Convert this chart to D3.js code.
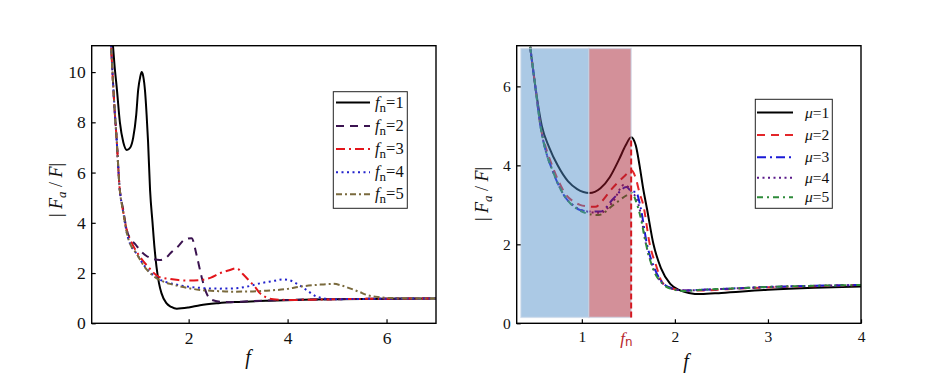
<!DOCTYPE html>
<html><head><meta charset="utf-8">
<script src="https://cdn.jsdelivr.net/npm/d3@7"></script>
</head><body style="margin:0;background:#fff"><svg id="c" width="936" height="391" style="display:block"></svg>
<script>
// ---------- DATA ----------
// Left panel: |Fa/F| vs f for fn = 1..5
const leftNames = ["1","2","3","4","5"];
const fn1F = [0.46,0.5,0.55,0.61,0.68,0.75,0.82,0.88,0.94,0.98,1.02,1.05,1.08,1.12,1.15,1.18,1.22,1.27,1.31,1.35,1.4,1.45,1.55,1.65,1.76,2.0,2.23,2.6,3.0,3.6,4.5,5.5,7.0];
const fn1V = [11.3,10.3,9.3,8.0,7.2,6.9,7.0,7.4,8.3,9.3,9.8,10.0,9.85,9.2,8.3,7.2,5.3,4.0,3.0,2.25,1.6,1.2,0.8,0.65,0.58,0.63,0.72,0.8,0.85,0.9,0.95,0.97,0.99];
const fn2F = [0.42,0.46,0.5,0.545,0.6,0.68,0.75,0.83,0.92,1.02,1.12,1.25,1.42,1.55,1.66,1.78,1.91,2.06,2.16,2.26,2.36,2.45,2.63,2.85,3.04,3.5,4.0,5.0,6.0,7.0];
const fn2V = [11.5,10.0,8.6,7.3,5.5,4.5,3.7,3.35,3.15,2.9,2.72,2.58,2.52,2.62,2.85,3.05,3.32,3.39,2.72,1.86,1.2,0.95,0.86,0.84,0.86,0.9,0.93,0.96,0.98,0.99];
const fn3F = [0.42,0.46,0.5,0.545,0.6,0.68,0.75,0.85,0.98,1.18,1.39,1.6,1.79,2.0,2.23,2.45,2.63,2.8,2.97,3.1,3.24,3.34,3.44,3.55,3.71,4.0,4.5,5.0,6.0,7.0];
const fn3V = [11.5,10.0,8.6,7.3,5.5,4.4,3.7,3.2,2.75,2.25,1.86,1.77,1.72,1.70,1.72,1.82,1.99,2.1,2.19,1.95,1.66,1.45,1.2,1.05,0.96,0.93,0.94,0.96,0.98,0.99];
const fn4F = [0.42,0.46,0.5,0.545,0.6,0.68,0.75,0.83,0.92,1.12,1.32,1.5,1.66,1.99,2.23,2.6,2.9,3.2,3.44,3.7,3.91,4.11,4.25,4.38,4.59,4.92,5.5,6.0,7.0];
const fn4V = [11.5,10.0,8.6,7.3,5.5,4.4,3.6,3.1,2.85,2.25,1.86,1.67,1.58,1.46,1.41,1.38,1.39,1.47,1.59,1.68,1.75,1.66,1.5,1.33,1.06,0.96,0.97,0.98,0.99];
const fn5F = [0.42,0.46,0.5,0.545,0.6,0.68,0.75,0.83,0.92,1.12,1.32,1.5,1.66,1.99,2.23,2.6,2.9,3.3,3.58,4.0,4.25,4.6,4.92,5.1,5.26,5.45,5.6,5.86,6.2,7.0];
const fn5V = [11.5,10.0,8.6,7.3,5.5,4.4,3.6,3.1,2.85,2.22,1.84,1.65,1.55,1.4,1.33,1.28,1.26,1.27,1.3,1.37,1.46,1.53,1.57,1.5,1.39,1.25,1.13,1.04,1.0,0.99];
const leftColors = ["#000000","#3b1350","#e3151b","#2222cc","#7a6a3d"];
const leftDashes = [null,"8,6","9,4,2,4","2,3.5","6,3,2,3"];

// Right panel: |Fa/F| vs f for mu = 1..5
const rightNames = ["1","2","3","4","5"];
const mu1F = [0.445,0.5,0.57,0.65,0.74,0.85,0.95,1.08,1.2,1.3,1.4,1.47,1.53,1.58,1.62,1.66,1.7,1.77,1.85,1.95,2.05,2.15,2.28,2.5,3.0,3.5,4.0];
const mu1V = [7.0,6.0,5.0,4.45,4.0,3.6,3.4,3.3,3.42,3.7,4.15,4.5,4.71,4.5,4.0,3.4,2.9,2.0,1.4,1.0,0.84,0.77,0.74,0.77,0.85,0.9,0.93];
const mu2F = [0.445,0.5,0.555,0.62,0.68,0.75,0.82,0.9,0.98,1.06,1.145,1.22,1.31,1.38,1.45,1.5,1.53,1.58,1.62,1.66,1.73,1.8,1.86,1.95,2.1,2.3,2.6,3.0,3.5,4.0];
const mu2V = [7.0,6.0,5.0,4.4,4.0,3.6,3.29,3.1,3.0,2.96,2.95,3.1,3.37,3.55,3.71,3.82,3.88,3.67,3.3,3.0,2.0,1.45,1.05,0.9,0.83,0.83,0.87,0.91,0.94,0.97];
const mu3F = [0.445,0.5,0.555,0.62,0.68,0.75,0.82,0.9,0.98,1.09,1.2,1.34,1.48,1.54,1.58,1.63,1.7,1.78,1.86,1.95,2.1,2.3,2.6,3.0,3.5,4.0];
const mu3V = [7.0,6.0,5.0,4.3,3.9,3.5,3.2,3.0,2.87,2.83,2.83,3.16,3.45,3.33,3.33,2.95,2.0,1.4,1.05,0.9,0.83,0.85,0.88,0.92,0.95,0.97];
const mu4F = [0.445,0.5,0.555,0.62,0.68,0.75,0.82,0.9,0.98,1.09,1.2,1.34,1.45,1.5,1.54,1.58,1.63,1.69,1.77,1.86,1.95,2.1,2.3,2.6,3.0,3.5,4.0];
const mu4V = [7.0,6.0,5.0,4.3,3.9,3.5,3.2,3.0,2.88,2.82,2.8,3.1,3.5,3.45,3.3,3.2,2.8,2.0,1.38,1.03,0.89,0.83,0.85,0.88,0.92,0.95,0.97];
const mu5F = [0.445,0.5,0.555,0.62,0.68,0.75,0.875,0.96,1.055,1.18,1.34,1.49,1.54,1.58,1.63,1.69,1.77,1.86,1.95,2.1,2.3,2.6,3.0,3.5,4.0];
const mu5V = [7.0,6.0,5.0,4.3,3.9,3.5,3.04,2.88,2.78,2.74,3.0,3.25,3.3,3.1,2.7,2.0,1.35,1.02,0.88,0.82,0.85,0.88,0.92,0.95,0.97];
const rightColors = ["#000000","#e3262a","#1a1ad6","#5a1a8a","#2e8b3a"];
const rightDashes = [null,"8,6","9,4,2,4","2,3.5","6,4,2,4"];

// shaded bands and fn marker (right panel)
const bandBlue = [0.345, 1.075];
const bandRed = [1.075, 1.53];
const bandY = [0.15, 6.96];
const fnValue = 1.53;
const fnTop = 4.66;

const leftXTicks = [2,4,6];
const leftYTicks = [0,2,4,6,8,10];
const rightXTicks = [1,2,3,4];
const rightYTicks = [0,2,4,6];

// ---------- DRAW ----------
const svg = d3.select("#c");
const FONT = "'Liberation Serif'";
const SANS = "'DejaVu Sans'";

function panel(opts){
  const x = d3.scaleLinear().domain(opts.xd).range(opts.xr);
  const y = d3.scaleLinear().domain(opts.yd).range(opts.yr);
  const g = svg.append("g");
  const cid = "clip"+opts.id;
  svg.append("clipPath").attr("id",cid).append("rect")
    .attr("x",opts.xr[0]).attr("y",opts.yr[1]).attr("width",opts.xr[1]-opts.xr[0]).attr("height",opts.yr[0]-opts.yr[1]);
  return {x,y,g,cid};
}

function axes(p, xt, yt, fs){
  const ax = p.g.append("g").attr("transform",`translate(0,${p.y.range()[0]})`)
    .call(d3.axisBottom(p.x).tickValues(xt).tickSize(-4).tickPadding(8).tickFormat(d3.format("d")));
  const ay = p.g.append("g").attr("transform",`translate(${p.x.range()[0]},0)`)
    .call(d3.axisLeft(p.y).tickValues(yt).tickSize(-4).tickPadding(6).tickFormat(d3.format("d")));
  [ax,ay].forEach(a=>{
    a.attr("font-family",null).attr("font-size",null);
    a.select(".domain").remove();
    a.selectAll(".tick line").attr("stroke","#000").attr("stroke-width",1.2);
    a.selectAll(".tick text").style("font-family",FONT).style("font-size",fs+"px").attr("fill","#111");
  });
  const xr=p.x.range(), yr=p.y.range();
  p.g.append("rect").attr("x",xr[0]).attr("y",yr[1]).attr("width",xr[1]-xr[0]).attr("height",yr[0]-yr[1])
    .attr("fill","none").attr("stroke","#000").attr("stroke-width",1.4);
}

function drawLines(p, Fs, Vs, colors, dashes){
  const line = d3.line().x(d=>p.x(d[0])).y(d=>p.y(d[1])).curve(d3.curveMonotoneX);
  const lg = p.g.append("g").attr("clip-path",`url(#${p.cid})`);
  Fs.forEach((F,i)=>{
    const pts = F.map((f,j)=>[f,Vs[i][j]]);
    lg.append("path").attr("d",line(pts)).attr("fill","none")
      .attr("stroke",colors[i]).attr("stroke-width",2)
      .attr("stroke-dasharray",dashes[i]).attr("stroke-linejoin","round");
  });
}

function yLabel(cx, cy){
  const t = svg.append("text").attr("transform",`translate(${cx},${cy}) rotate(-90)`)
    .attr("text-anchor","middle").style("font-family",FONT).style("font-size","18px").attr("fill","#111");
  t.append("tspan").text("| ");
  t.append("tspan").style("font-style","italic").text("F");
  t.append("tspan").style("font-style","italic").style("font-size","13px").attr("dy",4).text("a");
  t.append("tspan").attr("dy",-4).text(" / ");
  t.append("tspan").style("font-style","italic").text("F");
  t.append("tspan").text("|");
}

function xLabel(cx, cy){
  svg.append("text").attr("x",cx).attr("y",cy).attr("text-anchor","middle")
    .style("font-family",FONT).style("font-size","20px").style("font-style","italic").attr("fill","#111").text("f");
}

function legend(x0,y0,w,h,rowY,lineX0,lineX1,textX,names,colors,dashes,kind,fs){
  const lg = svg.append("g");
  lg.append("rect").attr("x",x0).attr("y",y0).attr("width",w).attr("height",h)
    .attr("fill","#fff").attr("stroke","#222").attr("stroke-width",1);
  names.forEach((n,i)=>{
    const yy = rowY[i];
    lg.append("line").attr("x1",lineX0).attr("x2",lineX1).attr("y1",yy).attr("y2",yy)
      .attr("stroke",colors[i]).attr("stroke-width",2).attr("stroke-dasharray",dashes[i]);
    const t = lg.append("text").attr("x",textX).attr("y",yy+5).style("font-family",FONT).style("font-size",fs+"px").attr("fill","#111");
    if(kind==="fn"){
      t.append("tspan").style("font-style","italic").text("f");
      t.append("tspan").style("font-size","13px").attr("dy",4).text("n");
      t.append("tspan").attr("dy",-4).text("="+n);
    } else {
      t.append("tspan").style("font-style","italic").text("\u03bc");
      t.append("tspan").text("="+n);
    }
  });
}

// Left panel
const L = panel({id:"L", xd:[0.04,7], xr:[91.7,436], yd:[0,11.05], yr:[323.3,45.7]});
drawLines(L,[fn1F,fn2F,fn3F,fn4F,fn5F],[fn1V,fn2V,fn3V,fn4V,fn5V],leftColors,leftDashes);
axes(L,leftXTicks,leftYTicks,17.5);
yLabel(62,190);
xLabel(248,364);
legend(333.3,91.7,74,116.6,[102.5,126,149,172.3,194.3],336,370,375,leftNames,leftColors,leftDashes,"fn",16.5);

// Right panel
const R = panel({id:"R", xd:[0.3,4], xr:[516.7,861], yd:[0,7.03], yr:[323.3,45.7]});
drawLines(R,[mu1F,mu2F,mu3F,mu4F,mu5F],[mu1V,mu2V,mu3V,mu4V,mu5V],rightColors,rightDashes);
// bands over lines
[[bandBlue,"#4f8fc8"],[bandRed,"#a3182a"]].forEach(([b,c])=>{
  R.g.append("rect").attr("x",R.x(b[0])).attr("y",R.y(bandY[1]))
    .attr("width",R.x(b[1])-R.x(b[0])).attr("height",R.y(bandY[0])-R.y(bandY[1]))
    .attr("fill",c).attr("fill-opacity",0.48)
    .attr("stroke","#c8d6e8").attr("stroke-opacity",0.6).attr("stroke-width",1.5);
});
R.g.append("line").attr("x1",R.x(fnValue)).attr("x2",R.x(fnValue)).attr("y1",R.y(bandY[0])).attr("y2",R.y(fnTop))
  .attr("stroke","#d41820").attr("stroke-width",2).attr("stroke-dasharray","6,3");
axes(R,rightXTicks,rightYTicks,15.5);
// fn label
const fnt = svg.append("text").attr("x",R.x(fnValue)-11).attr("y",344)
  .style("font-family",FONT).style("font-size","17px").attr("fill","#b8262c");
fnt.append("tspan").style("font-style","italic").text("f");
fnt.append("tspan").style("font-size","12px").style("font-family",SANS).attr("dy",2).text("n");
yLabel(488,194);
xLabel(686,368);
legend(755.3,99.3,77,109,[112.5,135,157.3,177.7,197.3],757,793,805,rightNames,rightColors,rightDashes,"mu",15.5);
</script></body></html>
